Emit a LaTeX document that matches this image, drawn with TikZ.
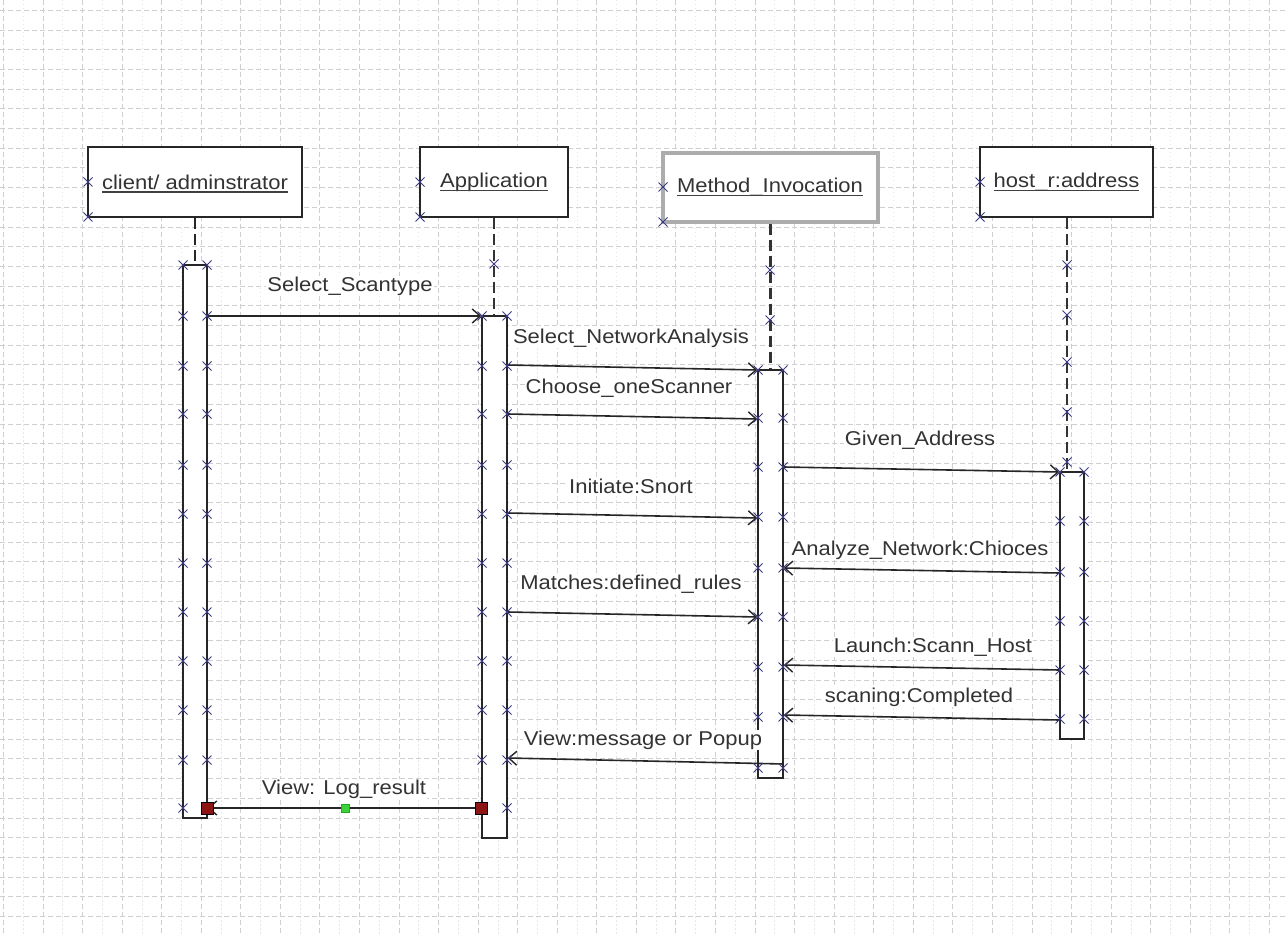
\documentclass[tikz,border=0pt]{standalone}
\usepackage{fontspec}
\setmainfont{Liberation Sans}[FakeStretch=1.1]
\usetikzlibrary{arrows.meta}
\begin{document}
\begin{tikzpicture}[x=1pt,y=-1pt,
  gridmajor/.style={gray!38,line width=0.9pt,dash pattern=on 5pt off 3pt},
  gridminor/.style={gray!18,line width=0.7pt,dash pattern=on 1.5pt off 2.5pt},
  actor/.style={draw=black!85,line width=2pt,fill=white,minimum height=70pt,inner sep=0pt},
  actorsel/.style={actor,draw=gray!65,line width=3.2pt},
  bar/.style={draw=black!85,line width=1.5pt,fill=white,minimum width=25pt,inner sep=0pt},
  life/.style={gray!40!black,line width=2.6pt,dash pattern=on 11pt off 5pt},
  msg/.style={draw=black!85,line width=1.6pt,-{Straight Barb[length=8pt,width=14pt,line width=1.4pt]}},
  lbl/.style={text=black!80,font=\fontsize{20}{23}\selectfont,inner sep=1pt},
  mlbl/.style={lbl,fill=white},
  uline/.style={black!75,line width=1.3pt},
  xmk/.style={draw={rgb,255:red,60;green,60;blue,130},line width=0.9pt},
  xm/.pic={\draw[xmk] (-4.5,-4.5) -- (4.5,4.5) (-4.5,4.5) -- (4.5,-4.5);},
  handle/.style={draw=black,line width=0.8pt,fill={rgb,255:red,140;green,20;blue,20},minimum size=12pt,inner sep=0pt},
  grip/.style={draw={rgb,255:red,30;green,170;blue,30},fill={rgb,255:red,60;green,210;blue,60},minimum size=8pt,inner sep=0pt}
]
% page and background grid
\fill[white] (0,0) rectangle (1286,936);
\useasboundingbox (0,0) rectangle (1286,936);
\foreach \i in {0,...,32} {
  \draw[gridminor] ({3.4+39.56*\i+19.78},0) -- ({3.4+39.56*\i+19.78},936);
  \draw[gridmajor] ({3.4+39.56*\i},0) -- ({3.4+39.56*\i},936);
}
\foreach \j in {0,...,47} {
  \draw[gridmajor] (0,{10.3+19.7*\j}) -- (1286,{10.3+19.7*\j});
}

% lifeline heads
\node[actor,minimum width=214pt] (a1) at (195,182.5) {};
\node[actor,minimum width=148pt] (a2) at (494,182) {};
\node[actorsel,minimum width=215pt,minimum height=69pt] (a3) at (770.5,187.5) {};
\node[actor,minimum width=173pt] (a4) at (1066.5,182) {};

% activation bars
\node[bar,minimum width=24pt,minimum height=553pt] (b1) at (195,541.5) {};
\node[bar,minimum height=522pt] (b2) at (494.5,577) {};
\node[bar,minimum height=408pt] (b3) at (770.5,574) {};
\node[bar,minimum width=24pt,minimum height=267pt] (b4) at (1072,605.5) {};

% dashed lifelines
\draw[life,black!85,line width=2pt] (a1.south) -- (a1.south |- b1.north);
\draw[life] (a2.south) -- (a2.south |- b2.north);
\draw[life] (a3.south) -- (a3.south |- b3.north);
\draw[life] ([xshift=0.5pt]a4.south) -- ([xshift=0.5pt]a4.south |- b4.north);

% head labels
\node[lbl,inner sep=0pt] (t1) at (195,182) {client/ adminstrator};
\node[lbl,inner sep=0pt] (t2) at (494,182) {Application};
\node[lbl,inner sep=0pt] (t3) at (770,187) {Method\_Invocation};
\node[lbl,inner sep=0pt] (t4) at (1066.5,182) {host\_r:address};
\foreach \t in {t1,t2,t3,t4}
  \draw[uline] ([yshift=-3pt]\t.base west) -- ([yshift=-3pt]\t.base east);

% messages
\draw[msg] (b1.east |- 0,316) -- (b2.west |- 0,316);
\draw[msg] (b2.east |- 0,365) -- (b3.west |- 0,370);
\draw[msg] (b2.east |- 0,414) -- (b3.west |- 0,419);
\draw[msg] (b3.east |- 0,467) -- (b4.west |- 0,472);
\draw[msg] (b2.east |- 0,513) -- (b3.west |- 0,518);
\draw[msg] (b4.west |- 0,573) -- (b3.east |- 0,568);
\draw[msg] (b2.east |- 0,612) -- (b3.west |- 0,617);
\draw[msg] (b4.west |- 0,670) -- (b3.east |- 0,665);
\draw[msg] (b4.west |- 0,720) -- (b3.east |- 0,715);
\draw[msg] (b3.east |- 0,764) -- (b2.east |- 0,758);
\draw[msg] (b2.west |- 0,808) -- (b1.east |- 0,808);

% message labels
\node[mlbl] (m1) at (350,286) {Select\_Scantype};
\node[mlbl] (m2) at (631,338) {Select\_NetworkAnalysis};
\node[mlbl] (m3) at (629,388) {Choose\_oneScanner};
\node[mlbl] (m4) at (920,440) {Given\_Address};
\node[mlbl] (m5) at (631,486) {Initiate:Snort};
\node[mlbl] (m6) at (920,550) {Analyze\_Network:Chioces};
\node[mlbl] (m7) at (631,584) {Matches:defined\_rules};
\node[mlbl] (m8) at (933,647) {Launch:Scann\_Host};
\node[mlbl] (m9) at (919,697) {scaning:Completed};
\node[mlbl] (m10) at (643,740) {View:message or Popup};
\node[mlbl] (m11) at (344,789) {View: Log\_result};

% connection points on heads and lifelines
\foreach \x/\y in {88/182,88/217,420/182,420/217,663/187,663/222,980/182,980/217,
  494/264,770/270,770/320,1067/265,1067/315,1067/362,1067/412,1067/462}
  \pic at (\x,\y) {xm};
% connection points on activation bars
\foreach \y in {265,316,366,414,465,514,563,612,661,710,760}
  {\pic at (183,\y) {xm}; \pic at (207,\y) {xm};}
\pic at (183,808) {xm};
\foreach \y in {316,366,414,465,514,563,612,661,710,760}
  {\pic at (482,\y) {xm}; \pic at (507,\y) {xm};}
\pic at (507,808) {xm};
\foreach \y in {370,418,467,517,568,617,667,717,768}
  {\pic at (758,\y) {xm}; \pic at (783,\y) {xm};}
\foreach \y in {472,521,572,621,670,719}
  {\pic at (1060,\y) {xm}; \pic at (1084,\y) {xm};}

% selection handles of the last message
\node[handle] (h1) at (b1.east |- 0,808) {};
\node[handle] (h2) at (b2.west |- 0,808) {};
\node[grip] (h3) at (345,808) {};
\end{tikzpicture}
\end{document}
